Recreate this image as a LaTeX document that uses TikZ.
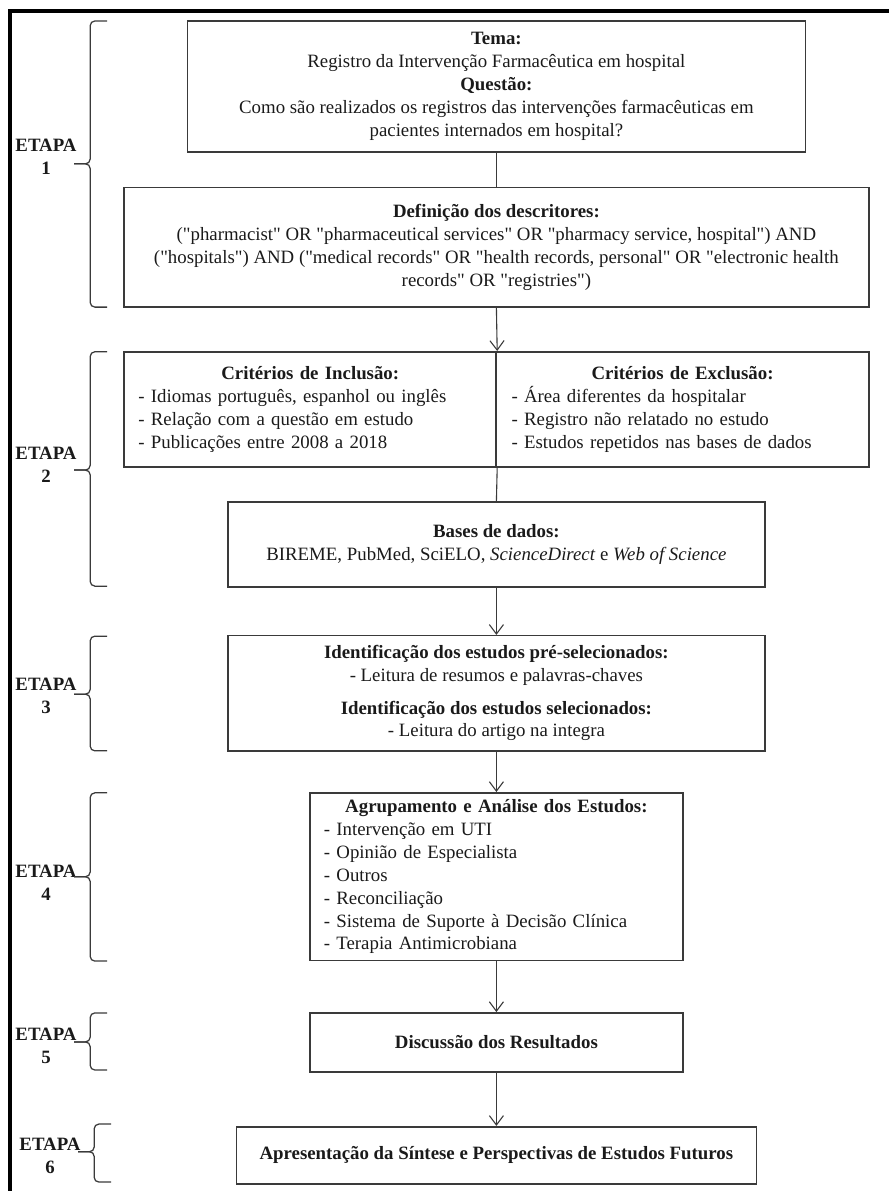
\documentclass[tikz,border=0pt]{standalone}
\usepackage{fontspec}
\setmainfont{Liberation Serif}[Ligatures=TeXOff]
\usepackage{tikz}
\usetikzlibrary{arrows.meta}
\definecolor{revInk}{HTML}{1A1A1A}
\definecolor{revLine}{HTML}{3A3A3A}
\newcommand{\stagefont}{\fontsize{12}{14.6}\selectfont}
\tikzset{
  stage/.style={draw=revLine,line width=1pt,align=center,inner sep=4pt,text=revInk},
  crit/.style={draw=revLine,line width=1pt,inner sep=0pt,align=left,text=revInk},
  flow/.style={->,line width=.7pt,revLine},
  link/.style={line width=.7pt,revLine},
  etapa/.style={font=\stagefont\bfseries,align=center,text=revInk,inner sep=1pt},
  stagebrace/.style={line width=.8pt,revLine,rounded corners=3pt}
}

\begin{document}
\begin{tikzpicture}[x=1cm,y=1cm,>={Straight Barb[length=6pt,width=9pt]},font=\stagefont]
  \useasboundingbox (0,0) rectangle (19.91,-26.68);
  % outer frame, only left and top edges show
  \draw[line width=2pt,black] (0.224,-26.9) -- (0.224,-0.246) -- (19.91,-0.246);

  \node[stage,minimum width=13.84cm,minimum height=2.93cm] (tema) at (11.12,-1.94)
       {\textbf{Tema:}\\Registro da Intervenção Farmacêutica em hospital\\
        \textbf{Questão:}\\Como são realizados os registros das intervenções farmacêuticas em\\
        pacientes internados em hospital?};
  \node[stage,minimum width=16.69cm,minimum height=2.67cm] (descr) at (11.12,-5.54)
       {\textbf{Definição dos descritores:}\\
        ("pharmacist" OR "pharmaceutical services" OR "pharmacy service, hospital") AND\\
        ("hospitals") AND ("medical records" OR "health records, personal" OR "electronic health\\
        records" OR "registries")};

  \node[crit,minimum width=8.34cm,minimum height=2.58cm,text width=7.70cm] (incl) at (6.95,-9.17)
       {\centering\textbf{Critérios de Inclusão:}\par\raggedright
        - Idiomas português, espanhol ou inglês\\
        - Relação com a questão em estudo\\
        - Publicações entre 2008 a 2018};
  \node[crit,minimum width=8.35cm,minimum height=2.58cm,text width=7.66cm] (excl) at (15.29,-9.17)
       {\centering\textbf{Critérios de Exclusão:}\par\raggedright
        - Área diferentes da hospitalar\\
        - Registro não relatado no estudo\\
        - Estudos repetidos nas bases de dados};

  \node[stage,minimum width=12.03cm,minimum height=1.90cm] (bases) at (11.12,-12.20)
       {\textbf{Bases de dados:}\\BIREME, PubMed, SciELO, \textit{ScienceDirect} e \textit{Web of Science}};
  \node[stage,minimum width=12.03cm,minimum height=2.58cm] (ident) at (11.12,-15.53)
       {\textbf{Identificação dos estudos pré-selecionados:}\\- Leitura de resumos e palavras-chaves\\[6pt]
        \textbf{Identificação dos estudos selecionados:}\\- Leitura do artigo na integra};
  \node[crit,minimum width=8.36cm,minimum height=3.76cm,text width=7.73cm] (agrup) at (11.12,-19.64)
       {\centering\textbf{Agrupamento e Análise dos Estudos:}\par\raggedright
        - Intervenção em UTI\\
        - Opinião de Especialista\\
        - Outros\\
        - Reconciliação\\
        - Sistema de Suporte à Decisão Clínica\\
        - Terapia Antimicrobiana};
  \node[stage,minimum width=8.36cm,minimum height=1.32cm] (discus) at (11.12,-23.35)
       {\textbf{Discussão dos Resultados}};
  \node[stage,minimum width=11.65cm,minimum height=1.28cm] (sintese) at (11.12,-25.88)
       {\textbf{Apresentação da Síntese e Perspectivas de Estudos Futuros}};

  \draw[link] (tema) -- (descr);
  \draw[flow] (descr.south) -- (incl.north east);
  \draw[link] (incl.south east) -- (bases.north);
  \draw[flow] (bases) -- (ident);
  \draw[flow] (ident) -- (agrup);
  \draw[flow] (agrup) -- (discus);
  \draw[flow] (discus) -- (sintese);

  % stage labels and their braces
  \node[etapa] (etapa1) at (1.03,-3.52) {ETAPA\\1};
  \node[etapa] (etapa2) at (1.03,-10.42) {ETAPA\\2};
  \node[etapa] (etapa3) at (1.03,-15.59) {ETAPA\\3};
  \node[etapa] (etapa4) at (1.03,-19.78) {ETAPA\\4};
  \node[etapa] (etapa5) at (1.03,-23.43) {ETAPA\\5};
  \node[etapa] (etapa6) at (1.12,-25.89) {ETAPA\\6};

  \draw[stagebrace] (2.40,-0.47) -- (2.02,-0.47) -- (2.02,-3.67) -- (1.66,-3.67);
  \draw[stagebrace] (2.40,-6.88) -- (2.02,-6.88) -- (2.02,-3.67) -- (1.66,-3.67);
  \draw[stagebrace] (2.40,-7.88) -- (2.02,-7.88) -- (2.02,-10.53) -- (1.66,-10.53);
  \draw[stagebrace] (2.40,-13.13) -- (2.02,-13.13) -- (2.02,-10.53) -- (1.66,-10.53);
  \draw[stagebrace] (2.40,-14.25) -- (2.02,-14.25) -- (2.02,-15.55) -- (1.66,-15.55);
  \draw[stagebrace] (2.40,-16.82) -- (2.02,-16.82) -- (2.02,-15.55) -- (1.66,-15.55);
  \draw[stagebrace] (2.40,-17.76) -- (2.02,-17.76) -- (2.02,-19.64) -- (1.66,-19.64);
  \draw[stagebrace] (2.40,-21.53) -- (2.02,-21.53) -- (2.02,-19.64) -- (1.66,-19.64);
  \draw[stagebrace] (2.40,-22.69) -- (2.02,-22.69) -- (2.02,-23.34) -- (1.66,-23.34);
  \draw[stagebrace] (2.40,-23.97) -- (2.02,-23.97) -- (2.02,-23.34) -- (1.66,-23.34);
  \draw[stagebrace] (2.49,-25.18) -- (2.11,-25.18) -- (2.11,-25.80) -- (1.75,-25.80);
  \draw[stagebrace] (2.49,-26.48) -- (2.11,-26.48) -- (2.11,-25.80) -- (1.75,-25.80);
\end{tikzpicture}
\end{document}
